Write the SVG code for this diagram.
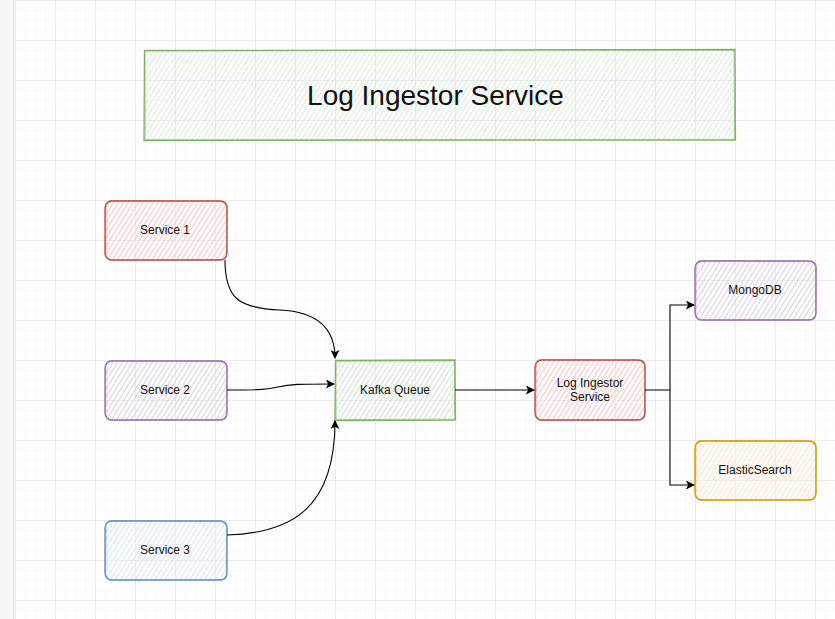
<svg xmlns="http://www.w3.org/2000/svg" width="835" height="619" viewBox="0 0 835 619">
<defs>
<style>
.lbl{font-family:"Liberation Sans",Arial,sans-serif;font-size:12px;fill:#111;text-anchor:middle}
.title{font-family:"Liberation Sans",Arial,sans-serif;font-size:28px;fill:#111;text-anchor:middle}
.edge{fill:none;stroke:#000;stroke-width:1.1}
.o2{fill:none;stroke-width:1;opacity:0.55}
</style>
<pattern id="gridMinor" x="15" y="0" width="10" height="10" patternUnits="userSpaceOnUse">
<path d="M0 0H10M0 0V10" fill="none" stroke="#f3f3f3" stroke-width="1"/>
</pattern>
<pattern id="gridMajor" x="15" y="0" width="40" height="40" patternUnits="userSpaceOnUse">
<path d="M0 0H40M0 0V40" fill="none" stroke="#e0e0e0" stroke-width="1"/>
</pattern>
<pattern id="hG" width="4.2" height="10" patternUnits="userSpaceOnUse" patternTransform="rotate(32)"><line x1="2" y1="0" x2="2" y2="10" stroke="#d5e8d4" stroke-width="1.3"/></pattern>
<pattern id="hR" width="4.2" height="10" patternUnits="userSpaceOnUse" patternTransform="rotate(32)"><line x1="2" y1="0" x2="2" y2="10" stroke="#f8cecc" stroke-width="1.3"/></pattern>
<pattern id="hP" width="4.2" height="10" patternUnits="userSpaceOnUse" patternTransform="rotate(32)"><line x1="2" y1="0" x2="2" y2="10" stroke="#e1d5e7" stroke-width="1.3"/></pattern>
<pattern id="hB" width="4.2" height="10" patternUnits="userSpaceOnUse" patternTransform="rotate(32)"><line x1="2" y1="0" x2="2" y2="10" stroke="#dae8fc" stroke-width="1.3"/></pattern>
<pattern id="hO" width="4.2" height="10" patternUnits="userSpaceOnUse" patternTransform="rotate(32)"><line x1="2" y1="0" x2="2" y2="10" stroke="#ffe6cc" stroke-width="1.3"/></pattern>
<marker id="arr" viewBox="0 0 10 10" refX="9" refY="5" markerWidth="9" markerHeight="9" markerUnits="userSpaceOnUse" orient="auto">
<path d="M0 0L10 5L0 10L2.5 5Z" fill="#000"/>
</marker>
</defs>

<g id="background">
<rect x="0" y="0" width="835" height="619" fill="#ffffff"/>
<rect x="15" y="0" width="820" height="619" fill="url(#gridMinor)"/>
<rect x="15" y="0" width="820" height="619" fill="url(#gridMajor)"/>
<rect x="0" y="0" width="13" height="619" fill="#f8f8f8"/>
<line x1="13.5" y1="0" x2="13.5" y2="619" stroke="#e6e6e6" stroke-width="1"/>
</g>

<g id="title">
<rect x="144" y="50" width="591" height="90" fill="url(#hG)" opacity="0.75"/>
<path d="M144.5 50.5L735 49.5L735.5 140L144 140.5Z" fill="none" stroke="#82b366" stroke-width="1.3"/>
<path d="M145 51L734 50.2L734.6 139.4L145.4 139.6Z" class="o2" stroke="#82b366"/>
<text class="title" x="435.5" y="105">Log Ingestor Service</text>
</g>

<g id="service1">
<rect x="105" y="201" width="122" height="59" rx="7" fill="url(#hR)"/>
<rect x="105" y="201" width="122" height="59" rx="7" fill="none" stroke="#b85450" stroke-width="1.4"/>
<path d="M111 200.5L222 201.2Q227.5 201 227 207L226.6 255Q227 260.3 221 259.8L111 260.2Q105.5 260 105.8 254L106 207Q105.5 200.8 111 200.5Z" class="o2" stroke="#b85450"/>
<text class="lbl" x="165" y="234">Service 1</text>
</g>

<g id="service2">
<rect x="105" y="361" width="122" height="59" rx="7" fill="url(#hP)"/>
<rect x="105" y="361" width="122" height="59" rx="7" fill="none" stroke="#9673a6" stroke-width="1.4"/>
<path d="M111 360.5L222 361.2Q227.5 361 227 367L226.6 415Q227 420.3 221 419.8L111 420.2Q105.5 420 105.8 414L106 367Q105.5 360.8 111 360.5Z" class="o2" stroke="#9673a6"/>
<text class="lbl" x="165" y="394">Service 2</text>
</g>

<g id="service3">
<rect x="105" y="521" width="122" height="59" rx="7" fill="url(#hB)"/>
<rect x="105" y="521" width="122" height="59" rx="7" fill="none" stroke="#6c8ebf" stroke-width="1.4"/>
<path d="M111 520.5L222 521.2Q227.5 521 227 527L226.6 575Q227 580.3 221 579.8L111 580.2Q105.5 580 105.8 574L106 527Q105.5 520.8 111 520.5Z" class="o2" stroke="#6c8ebf"/>
<text class="lbl" x="165" y="554">Service 3</text>
</g>

<g id="kafka">
<rect x="335" y="360" width="120" height="60" fill="url(#hG)"/>
<path d="M335.5 360.5L455 360L455.5 420L335 420.5Z" fill="none" stroke="#82b366" stroke-width="1.4"/>
<path d="M336 361.2L454.2 361L454.6 419.2L336.2 419.6Z" class="o2" stroke="#82b366"/>
<text class="lbl" x="395" y="394">Kafka Queue</text>
</g>

<g id="logIngestor">
<rect x="535" y="360" width="110" height="60" rx="7" fill="url(#hR)"/>
<rect x="535" y="360" width="110" height="60" rx="7" fill="none" stroke="#b85450" stroke-width="1.4"/>
<path d="M541 359.6L640 360.3Q645.6 360 645 366L644.6 415Q645 420.4 639 419.8L541 420.3Q535.4 420 535.8 414L536 366Q535.5 359.8 541 359.6Z" class="o2" stroke="#b85450"/>
<text class="lbl" x="590" y="387">Log Ingestor</text>
<text class="lbl" x="590" y="401">Service</text>
</g>

<g id="mongodb">
<rect x="695" y="261" width="121" height="59" rx="7" fill="url(#hP)"/>
<rect x="695" y="261" width="121" height="59" rx="7" fill="none" stroke="#9673a6" stroke-width="1.4"/>
<path d="M701 260.5L811 261.2Q816.5 261 816 267L815.6 315Q816 320.3 810 319.8L701 320.2Q695.5 320 695.8 314L696 267Q695.5 260.8 701 260.5Z" class="o2" stroke="#9673a6"/>
<text class="lbl" x="755" y="294">MongoDB</text>
</g>

<g id="elasticsearch">
<rect x="695" y="441" width="121" height="59" rx="7" fill="url(#hO)"/>
<rect x="695" y="441" width="121" height="59" rx="7" fill="none" stroke="#d79b00" stroke-width="1.4"/>
<path d="M701 440.5L811 441.2Q816.5 441 816 447L815.6 495Q816 500.3 810 499.8L701 500.2Q695.5 500 695.8 494L696 447Q695.5 440.8 701 440.5Z" class="o2" stroke="#d79b00"/>
<text class="lbl" x="755" y="474">ElasticSearch</text>
</g>

<g id="connectors">
<path class="edge" d="M225 260C225 300 240 308 280 310C320 312 335 330 335 358" marker-end="url(#arr)"/>
<path class="edge" d="M227 390C255 390 265 390 278 387C290 384 300 384 334 384" marker-end="url(#arr)"/>
<path class="edge" d="M227 535C290 533 335 510 335 421" marker-end="url(#arr)"/>
<path class="edge" d="M455 390L534 390" marker-end="url(#arr)"/>
<path class="edge" d="M645 390L670 390L670 305L694 305" marker-end="url(#arr)"/>
<path class="edge" d="M670 390L670 485L694 485" marker-end="url(#arr)"/>
</g>
</svg>
